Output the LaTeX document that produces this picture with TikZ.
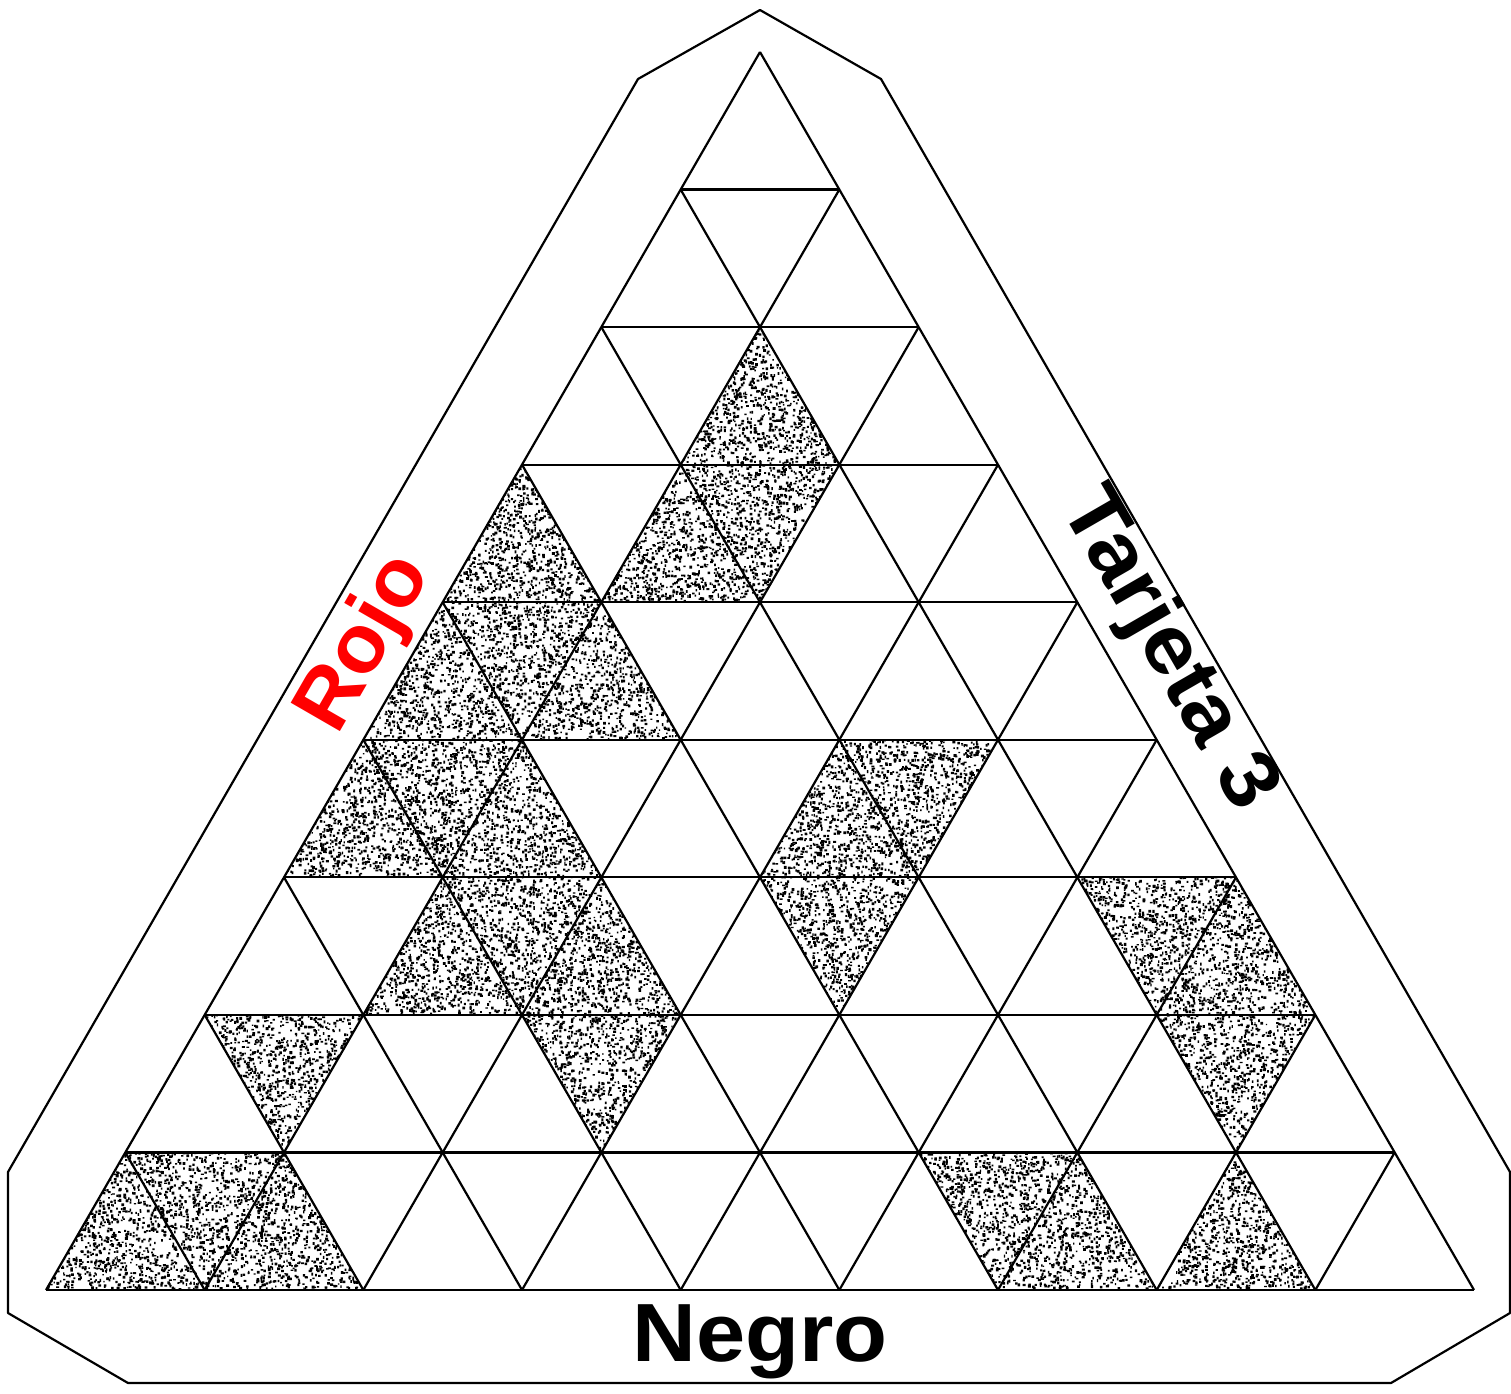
\documentclass[tikz,border=0pt]{standalone}
\usepackage{fontspec}
\setmainfont{Liberation Sans}
\tikzset{
  gridline/.style={line width=1.25pt},
  label/.style={font=\bfseries\fontsize{47}{47}\selectfont, inner sep=0pt}
}
\makeatletter
% #1,#2: top-left corner of the triangle's box, in picture pixels
\newcommand\stipplebox[2]{%
  \foreach \c in {1,...,28}{%
    \gdef\dotlist{}%
    \foreach \n in {1,...,50}{%
      \pgfmathsetmacro\dx{(#1+rnd*158.67)*0.56693}%
      \pgfmathsetmacro\dy{-(#2+rnd*137.56)*0.56693}%
      \pgfmathsetmacro\dw{(1.3+1.7*rnd)*0.56693}%
      \pgfmathsetmacro\dh{(1.3+1.7*rnd)*0.56693}%
      \xdef\dotlist{\dotlist\space\dx\space\dy\space\dw\space\dh\space re}%
    }%
    \pgfsys@invoke{\dotlist\space f}%
  }%
}
\makeatother
\begin{document}
\begin{tikzpicture}[x=0.02cm,y=-0.02cm, line join=round]
\pgfmathsetseed{4711}
\useasboundingbox (0,0) rectangle (1511,1393);
\fill[white] (0,0) rectangle (1511,1393);
% lattice points
\foreach \i in {0,...,9}{
  \foreach \j in {0,...,\i}{
    \coordinate (p\i-\j) at ({760-\i*79.3333+\j*158.6667},{52+\i*137.5556});
  }
}
% shaded upward triangles (stippled)
\foreach \r/\k [evaluate=\r as \rr using int(\r+1), evaluate=\k as \kk using int(\k+1)] in
  {2/1,3/0,3/1,4/0,4/1,5/0,5/1,5/3,6/1,6/2,6/6,8/0,8/1,8/6,8/7}{
  \pgfmathsetmacro\xo{760-(\r+1)*79.3333+\k*158.6667}
  \pgfmathsetmacro\yo{52+\r*137.5556}
  \begin{scope}
    \clip (p\r-\k) -- (p\rr-\k) -- (p\rr-\kk) -- cycle;
    \stipplebox{\xo}{\yo}
  \end{scope}
}
% shaded downward triangles (stippled)
\foreach \r/\k [evaluate=\r as \rr using int(\r+1), evaluate=\k as \kk using int(\k+1)] in
  {3/1,4/0,5/0,5/3,6/1,6/3,6/5,7/0,7/2,7/6,8/0,8/5}{
  \pgfmathsetmacro\xo{760-\r*79.3333+\k*158.6667}
  \pgfmathsetmacro\yo{52+\r*137.5556}
  \begin{scope}
    \clip (p\r-\k) -- (p\r-\kk) -- (p\rr-\kk) -- cycle;
    \stipplebox{\xo}{\yo}
  \end{scope}
}
% grid lines
\foreach \i in {1,...,9} \draw[gridline] (p\i-0) -- (p\i-\i);
\foreach \j in {0,...,8} \draw[gridline] (p\j-\j) -- (p9-\j);
\foreach \m [evaluate=\m as \mm using int(9-\m)] in {0,...,8} \draw[gridline] (p\m-0) -- (p9-\mm);
% outer frame
\draw[gridline] (760,10) -- (881,79) -- (1510,1172) -- (1510,1313) -- (1391,1383) -- (128,1383) -- (8,1313) -- (8,1172) -- (638,79) -- cycle;
% labels
\node[label, text=red, rotate=60, xscale=1.03] (rojo) at (366,644) {Rojo};
\node[label, rotate=-60, xscale=1.07] (tarjeta) at (1167,650) {Tarjeta 3};
\node[label, anchor=base, xscale=1.07] (negro) at (760,1361) {Negro};
\end{tikzpicture}
\end{document}
